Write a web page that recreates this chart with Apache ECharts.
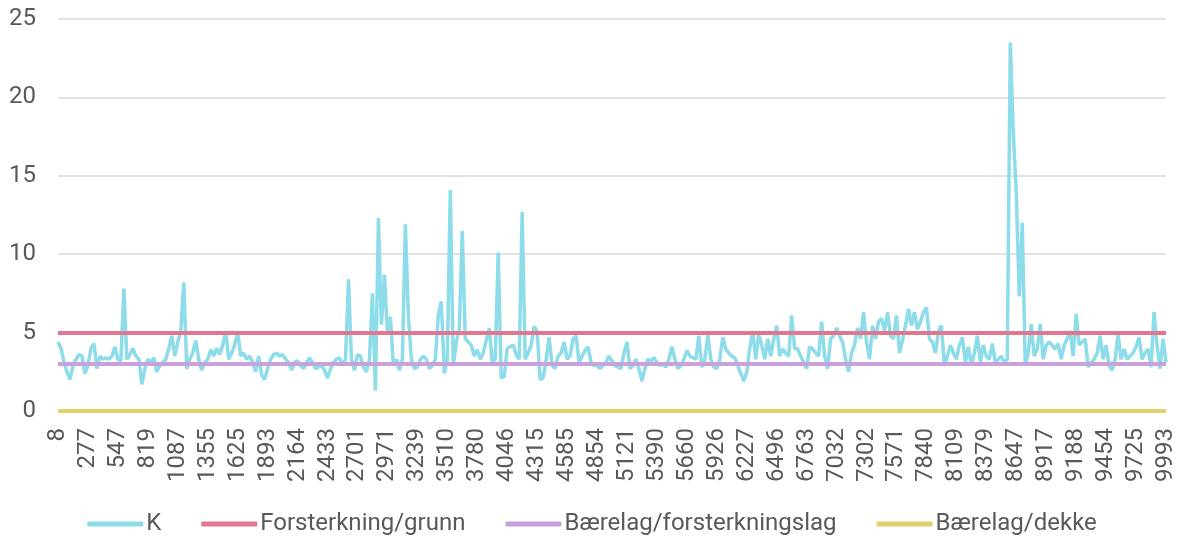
<!DOCTYPE html>
<html>
<head>
<meta charset="utf-8">
<script src="https://cdn.jsdelivr.net/npm/echarts@6/dist/echarts.min.js"></script>
<style>
  html, body { margin: 0; padding: 0; background: #ffffff; }
  #chart { width: 1184px; height: 541px; }
</style>
</head>
<body>
<div id="chart"></div>
<script>
// Tick labels shown on the category axis (every 10th station)
const tickLabels = ['8','277','547','819','1087','1355','1625','1893','2164','2433','2701','2971','3239','3510','3780','4046','4315','4585','4854','5121','5390','5660','5926','6227','6496','6763','7032','7302','7571','7840','8109','8379','8647','8917','9188','9454','9725','9993'];
const pointsPerTick = 10;

// K values
const kValues = [
  4.4,4.0,3.1,2.5,2.0,2.9,3.3,3.6,3.5,2.4,
  2.9,4.0,4.3,2.7,3.5,3.3,3.4,3.3,3.5,4.1,
  3.3,3.2,7.8,3.3,3.6,4.0,3.5,3.3,1.7,2.7,
  3.3,3.1,3.4,2.5,2.9,3.1,3.3,4.0,4.8,3.5,
  4.4,5.1,8.2,2.7,3.3,3.7,4.5,3.3,2.6,3.1,
  3.3,3.9,3.5,4.0,3.6,4.2,5.1,3.3,3.7,4.2,
  5.1,3.5,3.7,3.3,3.5,3.1,2.5,3.5,2.3,2.0,
  2.7,3.3,3.6,3.7,3.5,3.6,3.3,3.1,2.6,3.1,
  3.2,2.9,2.7,3.1,3.4,3.1,2.7,2.8,2.9,2.6,
  2.1,2.7,3.1,3.3,3.4,2.9,3.3,8.4,3.3,2.6,
  3.6,3.5,2.8,2.5,3.3,7.5,1.3,12.3,5.5,8.7,
  5.0,6.0,2.9,3.3,2.6,3.3,11.9,6.1,3.3,2.7,
  2.8,3.3,3.5,3.3,2.7,2.9,3.3,6.1,7.0,2.4,
  3.3,14.1,2.9,4.4,5.2,11.5,4.6,4.4,4.2,3.5,
  3.9,3.3,3.7,4.5,5.3,3.1,3.3,10.1,2.1,2.2,
  4.0,4.1,4.2,3.6,3.3,12.7,3.3,3.7,4.2,5.4,
  5.1,2.0,2.1,3.3,4.7,2.9,2.7,3.5,3.7,4.4,
  3.3,3.5,4.6,4.8,3.1,3.5,3.85,4.1,3.1,2.9,
  2.9,2.7,2.9,3.1,3.5,3.2,2.9,2.8,2.7,3.7,
  4.4,2.7,2.9,3.3,2.7,1.9,2.7,3.3,3.2,3.4,
  3.1,2.9,3.0,2.8,3.3,4.1,3.3,2.7,2.9,3.3,
  3.85,3.5,3.4,3.3,4.8,2.8,3.3,4.85,3.3,2.8,
  2.7,3.3,4.7,3.95,3.7,3.5,3.4,2.9,2.4,1.9,
  2.5,4.0,5.1,3.3,4.9,4.2,3.3,4.6,3.5,4.6,
  5.45,3.5,3.95,3.7,3.5,6.1,4.0,3.95,3.5,3.1,
  2.7,4.1,3.95,3.7,3.5,5.7,3.5,2.7,4.6,4.8,
  5.3,4.8,4.4,3.3,2.5,3.7,4.2,5.3,4.6,6.3,
  4.4,3.3,5.45,4.6,5.7,5.9,5.1,6.3,4.8,4.6,
  6.1,3.7,4.5,5.45,6.5,5.45,6.3,5.2,5.7,6.3,
  6.6,4.6,4.4,3.7,5.1,5.45,2.9,3.5,4.2,3.7,
  3.3,4.2,4.7,3.1,4.1,2.9,3.7,4.8,3.1,4.2,
  3.5,3.3,4.3,3.1,3.3,3.5,3.1,3.3,23.5,17.8,
  13.9,7.3,12.0,2.9,3.7,5.55,3.5,3.95,5.55,3.3,
  4.2,4.4,4.2,3.95,4.3,3.3,4.2,4.6,5.1,3.5,
  6.2,4.2,4.4,4.6,2.8,3.1,3.3,3.7,4.8,3.3,
  4.2,2.9,2.6,3.3,4.9,3.3,3.95,3.3,3.5,3.7,
  4.1,4.7,3.3,3.7,3.95,2.8,6.3,4.2,2.7,4.6,
  3.1
];

// Threshold levels
const forsterkningGrunn = 5;
const baerelagForsterkningslag = 3;
const baerelagDekke = 0;

// y-axis
const yMin = 0, yMax = 25, yStep = 5;

// Build category list: labelled station every pointsPerTick points, unique fillers between
const categories = [];
tickLabels.forEach((lab, k) => {
  categories.push(lab);
  if (k < tickLabels.length - 1) {
    for (let j = 1; j < pointsPerTick; j++) categories.push(lab + '~' + j);
  }
});

const FONT = 'Roboto';
const TXT = '#595959';

function levelSeries(name, value, color) {
  return {
    name: name,
    type: 'line',
    data: [],
    symbol: 'none',
    color: color,
    lineStyle: { color: color, width: 4 },
    markLine: {
      silent: true,
      symbol: ['none', 'none'],
      label: { show: false },
      lineStyle: { color: color, width: 4, type: 'solid' },
      emphasis: { disabled: true },
      data: [{ yAxis: value }]
    }
  };
}

const chart = echarts.init(document.getElementById('chart'), null, { renderer: 'canvas' });
chart.setOption({
  animation: false,
  backgroundColor: '#ffffff',
  textStyle: { fontFamily: FONT },
  grid: { left: 58, right: 18, top: 19, bottom: 130, containLabel: false },
  legend: {
    top: 507,
    left: 'center',
    icon: 'roundRect',
    itemWidth: 56,
    itemHeight: 5,
    itemGap: 40,
    textStyle: { color: TXT, fontSize: 24, fontFamily: FONT, padding: [0, 0, 0, -2] },
    data: ['K', 'Forsterkning/grunn', 'Bærelag/forsterkningslag', 'Bærelag/dekke']
  },
  xAxis: {
    type: 'category',
    data: categories,
    boundaryGap: false,
    axisLine: { show: false },
    axisTick: { show: false },
    axisLabel: {
      interval: pointsPerTick - 1,
      rotate: 90,
      color: TXT,
      fontSize: 24,
      fontFamily: FONT,
      margin: 17
    },
    splitLine: { show: false }
  },
  yAxis: {
    type: 'value',
    min: yMin,
    max: yMax,
    interval: yStep,
    axisLine: { show: false },
    axisTick: { show: false },
    axisLabel: { color: TXT, fontSize: 24, fontFamily: FONT, margin: 22 },
    splitLine: { lineStyle: { color: '#d9d9d9', width: 1.5 } }
  },
  series: [
    {
      name: 'K',
      type: 'line',
      data: kValues,
      symbol: 'none',
      color: '#8ddcea',
      lineStyle: { color: '#8ddcea', width: 3.5 },
      z: 2
    },
    levelSeries('Forsterkning/grunn', forsterkningGrunn, '#e2768f'),
    levelSeries('Bærelag/forsterkningslag', baerelagForsterkningslag, '#c9a2dc'),
    levelSeries('Bærelag/dekke', baerelagDekke, '#e2d06c')
  ]
});
</script>
</body>
</html>
